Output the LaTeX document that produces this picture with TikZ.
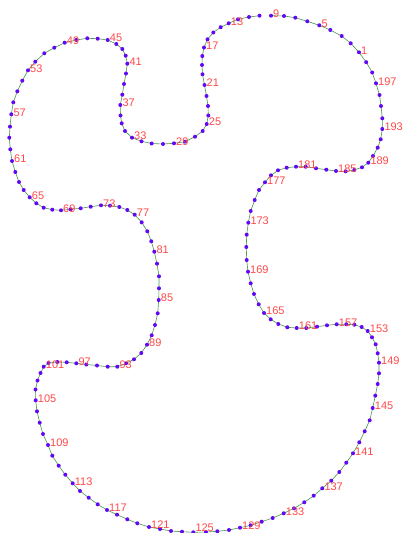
\documentclass[tikz,border=0pt]{standalone}
\usepackage{fontspec}
\setmainfont{Liberation Sans}
\usepackage{xcolor}
\usepackage{tikz}
\usetikzlibrary{
	calc,
	positioning
}
\definecolor{DotViolet}{RGB}{98,8,245}
\definecolor{LabelRed}{RGB}{255,72,72}
\definecolor{CurveGreen}{RGB}{72,150,72}

\begin{document}
\begin{tikzpicture}[x=1pt,y=-1pt,
		numlabel/.style={inner sep=0pt,text=LabelRed,font=\fontsize{11}{13}\selectfont}]
		\useasboundingbox (0,0) rectangle (403,533);
		
		% 采样点
		\foreach \x/\y [count=\i] in {
			359.0/52.3, 350.7/43.3, 341.7/36.0, 330.3/30.0, 319.3/25.3, 307.3/21.3, 295.3/17.7, 284.0/16.0, 271.0/15.7, 259.5/15.7,
			249.0/17.0, 238.0/19.3, 228.7/23.3, 220.7/27.2, 213.3/32.5, 207.5/39.3, 204.0/47.5, 202.3/56.0, 202.0/65.0, 202.5/74.3,
			204.5/85.0, 206.5/96.0, 208.0/106.0, 208.3/115.5, 206.7/124.0, 202.7/131.0, 195.0/136.7, 185.0/141.7, 174.0/143.3, 163.0/144.0,
			151.7/143.5, 141.5/141.3, 132.0/137.7, 125.0/131.0, 121.7/123.3, 120.5/115.5, 120.3/105.0, 122.3/94.7, 124.0/84.0, 126.0/73.5,
			127.3/63.7, 125.7/55.7, 122.3/49.0, 116.3/44.0, 107.7/40.0, 97.7/38.7, 87.3/38.3, 76.3/40.0, 64.7/42.7, 54.3/47.7,
			44.3/53.3, 35.3/61.7, 28.0/70.3, 22.3/80.7, 17.3/91.3, 13.3/102.3, 11.3/114.3, 10.0/126.7, 9.3/137.7, 10.3/149.3,
			12.0/161.0, 15.3/172.0, 19.0/182.0, 23.7/190.0, 29.7/197.3, 36.3/203.3, 43.7/207.7, 52.3/209.7, 61.0/210.3, 70.7/209.3,
			80.7/208.3, 90.7/206.7, 101.0/205.3, 110.0/205.7, 119.3/207.0, 127.3/210.0, 134.7/214.7, 141.7/222.3, 147.3/231.3, 151.3/241.3,
			154.3/251.7, 157.0/263.7, 159.0/276.3, 159.0/288.3, 158.7/300.0, 157.7/313.3, 155.0/325.0, 151.7/335.3, 147.0/344.7, 141.3/353.0,
			134.0/359.3, 126.0/363.3, 117.3/366.7, 107.7/366.7, 97.0/365.5, 86.3/364.5, 76.3/363.3, 66.7/362.3, 57.3/362.0, 48.5/363.0,
			43.7/366.7, 40.5/373.0, 37.5/380.5, 35.5/389.5, 35.7/400.3, 37.0/411.3, 39.7/422.7, 43.0/434.0, 48.0/445.0, 52.3/455.7,
			58.7/465.7, 65.3/474.7, 72.7/483.3, 80.0/491.0, 88.7/497.7, 97.7/504.3, 107.0/510.0, 117.0/514.7, 127.3/519.3, 137.3/523.3,
			149.0/527.0, 160.0/529.0, 171.0/531.0, 182.0/531.7, 193.3/532.3, 206.0/532.0, 217.3/531.3, 229.0/530.0, 240.0/527.7, 250.7/525.3,
			261.7/521.7, 272.7/518.0, 283.7/513.3, 294.0/508.3, 304.3/502.3, 313.7/495.7, 322.3/488.3, 331.3/480.7, 339.3/472.0, 346.3/462.7,
			353.0/453.3, 359.3/442.3, 364.7/431.3, 369.7/420.3, 372.7/408.0, 375.3/395.7, 377.7/384.0, 379.0/373.3, 379.0/362.7, 377.7/353.3,
			375.7/344.3, 372.0/337.3, 367.7/331.0, 361.7/327.0, 354.3/324.7, 346.3/324.3, 336.7/324.3, 327.0/325.3, 317.0/326.7, 306.3/328.0,
			296.7/328.0, 287.3/327.3, 278.3/324.0, 270.7/319.3, 264.0/313.0, 258.7/304.3, 254.0/294.0, 250.7/283.3, 248.0/271.7, 246.7/260.0,
			246.3/247.0, 246.7/234.7, 248.3/222.7, 250.7/211.0, 254.7/200.0, 259.0/190.0, 265.0/182.3, 271.0/175.3, 278.0/170.3, 286.7/167.7,
			296.0/166.7, 305.7/166.7, 316.0/168.3, 326.3/169.7, 336.0/171.0, 345.7/171.3, 354.3/170.0, 362.0/167.3, 368.3/162.7, 373.0/156.0,
			377.7/147.7, 380.7/139.3, 382.3/129.0, 382.3/118.3, 381.0/106.0, 379.5/95.0, 376.0/83.3, 372.2/72.5, 366.2/62.2}
			\coordinate (p\i) at (\x,\y);
		
		% 曲线
		\draw[CurveGreen,line width=0.6pt] (p10) \foreach \i in {11,12,...,199,1,2,...,9} { -- (p\i) };
		
		% 点
		\foreach \i in {1,...,199}
			\fill[DotViolet] (p\i) circle (2pt);
		
		% 编号
		\foreach \i in {1,5,...,121,129,133,...,197}
			\node[numlabel,anchor=west,xshift=2pt,yshift=2pt] (n\i) at (p\i) {\i};
		\node[numlabel,anchor=south west] (n125) at ($(p125)+(2,0)$) {125};
	\end{tikzpicture}
\end{document}
